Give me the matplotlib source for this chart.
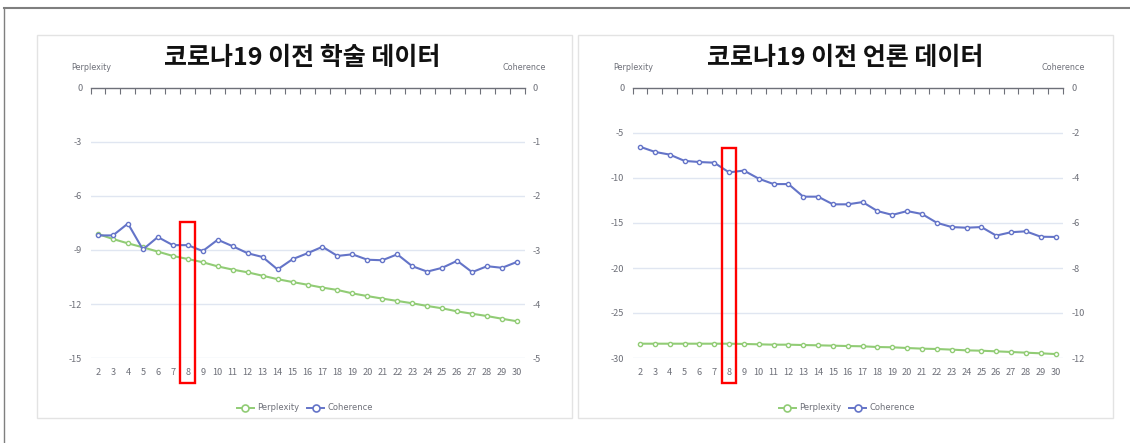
import matplotlib
matplotlib.use("Agg")
import matplotlib.pyplot as plt
from matplotlib.patches import Rectangle
from matplotlib.lines import Line2D
import matplotlib.transforms as mtransforms

plt.rcParams['font.family'] = ['Noto Sans CJK KR', 'DejaVu Sans']

# ---------------- data ----------------
topics = list(range(2, 31))
tick_labels = [str(t) for t in topics]

academic_title = "코로나19 이전 학술 데이터"
academic_perplexity = [-8.11, -8.39, -8.63, -8.85, -9.09, -9.33, -9.50, -9.68, -9.91, -10.09,
                       -10.24, -10.43, -10.62, -10.78, -10.93, -11.09, -11.22, -11.41, -11.56,
                       -11.70, -11.83, -11.96, -12.11, -12.24, -12.41, -12.54, -12.67, -12.82, -12.96]
academic_coherence = [-2.73, -2.73, -2.51, -2.99, -2.76, -2.91, -2.91, -3.02, -2.81, -2.93,
                      -3.06, -3.13, -3.36, -3.17, -3.06, -2.94, -3.11, -3.08, -3.18, -3.19,
                      -3.08, -3.30, -3.40, -3.33, -3.20, -3.41, -3.30, -3.33, -3.22]
academic_left_ticks = [0, -3, -6, -9, -12, -15]
academic_right_ticks = [0, -1, -2, -3, -4, -5]

press_title = "코로나19 이전 언론 데이터"
press_perplexity = [-28.41, -28.41, -28.41, -28.41, -28.41, -28.41, -28.41, -28.44, -28.48, -28.52,
                    -28.52, -28.56, -28.59, -28.63, -28.67, -28.70, -28.78, -28.81, -28.89,
                    -28.96, -29.00, -29.07, -29.15, -29.19, -29.26, -29.33, -29.41, -29.48, -29.56]
press_coherence = [-2.61, -2.84, -2.96, -3.24, -3.29, -3.32, -3.75, -3.67, -4.03, -4.27,
                   -4.27, -4.83, -4.83, -5.17, -5.17, -5.07, -5.47, -5.64, -5.47, -5.60,
                   -5.99, -6.18, -6.21, -6.18, -6.56, -6.41, -6.37, -6.61, -6.62]
press_left_ticks = [0, -5, -10, -15, -20, -25, -30]
press_right_ticks = [0, -2, -4, -6, -8, -10, -12]

highlight_topic = 8
series_names = ["Perplexity", "Coherence"]

# ---------------- style ----------------
W, H = 1130, 443
GREEN = "#91CC75"
BLUE = "#6474C8"
GRID = "#E0E6F1"
AXIS = "#6E7079"
LABEL = "#6E7079"

fig = plt.figure(figsize=(W / 100, H / 100), dpi=100)
fig.patch.set_facecolor("white")


def px_rect(x0, y0, x1, y1):
    return [x0 / W, 1 - y1 / H, (x1 - x0) / W, (y1 - y0) / H]


# outer frame lines
fig.add_artist(Line2D([4 / W, 1], [1 - 8 / H, 1 - 8 / H], color="#7F7F7F", lw=1.5, zorder=-5))
fig.add_artist(Line2D([4 / W, 4 / W], [0, 1 - 8 / H], color="#7F7F7F", lw=1.0, zorder=-5))

# panel boxes
for (x0, x1) in [(37, 572), (578, 1113)]:
    fig.add_artist(Rectangle((x0 / W, 1 - 418 / H), (x1 - x0) / W, (418 - 35) / H,
                             transform=fig.transFigure, facecolor="white",
                             edgecolor="#E3E3E3", lw=1.0, zorder=-10))


def draw_panel(plot_px, title, title_x, perp, coh, lticks, rticks, box_top_px, legend_x):
    x0, y0, x1, y1 = plot_px
    ax = fig.add_axes(px_rect(x0, y0, x1, y1))
    ax2 = ax.twinx()
    ax2.set_zorder(ax.get_zorder() + 1)
    ax.patch.set_visible(False)
    ax2.patch.set_visible(False)

    ax.set_xlim(topics[0] - 0.5, topics[-1] + 0.5)
    ax.set_ylim(lticks[-1], lticks[0])
    ax2.set_ylim(rticks[-1], rticks[0])

    for t in lticks[1:]:
        ax.axhline(t, color=GRID, lw=1.0, zorder=0)

    for a in (ax, ax2):
        for s in a.spines.values():
            s.set_visible(False)
    ax.spines["top"].set_visible(True)
    ax.spines["top"].set_color(AXIS)
    ax.spines["top"].set_linewidth(1.0)

    ax.set_xticks(topics)
    ax.set_xticklabels(tick_labels)
    ax.set_xticks([t - 0.5 for t in topics] + [topics[-1] + 0.5], minor=True)
    ax.tick_params(axis="x", which="major", bottom=True, top=False, length=0,
                   labelsize=6.6, labelcolor=LABEL, pad=7)
    ax.tick_params(axis="x", which="minor", bottom=False, top=True, direction="in",
                   length=4, color=AXIS, width=0.8)

    ax.set_yticks(lticks)
    ax.set_yticklabels([str(t) for t in lticks])
    ax.tick_params(axis="y", length=0, labelsize=6.6, labelcolor=LABEL, pad=6)
    ax2.set_yticks(rticks)
    ax2.set_yticklabels([str(t) for t in rticks])
    ax2.tick_params(axis="y", length=0, labelsize=6.6, labelcolor=LABEL, pad=6)

    ax.plot(topics, perp, color=GREEN, lw=1.5, marker="o", ms=3.0, mfc="white",
            mec=GREEN, mew=1.0, zorder=3, clip_on=False)
    ax2.plot(topics, coh, color=BLUE, lw=1.5, marker="o", ms=3.0, mfc="white",
             mec=BLUE, mew=1.0, zorder=3, clip_on=False)

    # axis names
    fig.text((x0 + 1) / W, 1 - 68 / H, series_names[0], fontsize=5.8, color=LABEL,
             ha="center", va="center", family=["DejaVu Sans"])
    fig.text((x1) / W, 1 - 68 / H, series_names[1], fontsize=5.8, color=LABEL,
             ha="center", va="center", family=["DejaVu Sans"])

    # title
    fig.text(title_x / W, 1 - 58 / H, title, fontsize=18, fontweight="bold",
             ha="center", va="center", color="#111111")

    # highlight box
    trans = mtransforms.blended_transform_factory(ax.transData, fig.transFigure)
    ax2.add_patch(Rectangle((highlight_topic - 0.5, 1 - 383 / H), 1.0,
                            (383 - box_top_px) / H, transform=trans, fill=False,
                            edgecolor="#FF0000", lw=1.7, clip_on=False, zorder=5))

    # legend
    handles = [Line2D([], [], color=GREEN, lw=1.4, marker="o", ms=5, mfc="white", mec=GREEN, mew=1.2),
               Line2D([], [], color=BLUE, lw=1.4, marker="o", ms=5, mfc="white", mec=BLUE, mew=1.2)]
    leg = fig.legend(handles, series_names, loc="center", bbox_to_anchor=(legend_x / W, 1 - 408 / H),
                     ncol=2, frameon=False, fontsize=6.0, handlelength=2.0, handletextpad=0.4,
                     columnspacing=1.0, borderaxespad=0)
    for txt in leg.get_texts():
        txt.set_color(LABEL)
        txt.set_family(["DejaVu Sans"])
    return ax, ax2


draw_panel((90.5, 88, 524.5, 358), academic_title, 302, academic_perplexity, academic_coherence,
           academic_left_ticks, academic_right_ticks, 222, 305)
draw_panel((632.6, 88, 1063, 358), press_title, 845, press_perplexity, press_coherence,
           press_left_ticks, press_right_ticks, 148, 847)

fig.savefig("out.png", dpi=100, facecolor="white")
